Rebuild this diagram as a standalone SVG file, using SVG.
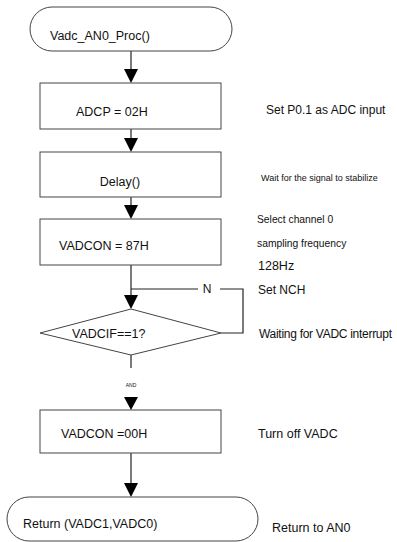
<svg xmlns="http://www.w3.org/2000/svg" width="397" height="542" viewBox="0 0 397 542">
<defs>
<style>
.shape{fill:#fff;stroke:#444;stroke-width:1}
.ln{fill:none;stroke:#222;stroke-width:1.2}
.ah{fill:#000}
text{font-family:"Liberation Sans",Arial,sans-serif;fill:#111}
.t{font-size:12.5px}
.n{font-size:12px}
.s{font-size:9px}
.m{font-size:10.3px}
</style>
</defs>
<rect width="397" height="542" fill="#fff"/>
<g id="connectors">
<line class="ln" x1="131" y1="51" x2="131" y2="70"/>
<polygon class="ah" points="124,69 138,69 131,83"/>
<line class="ln" x1="131" y1="129" x2="131" y2="139"/>
<polygon class="ah" points="124,138 138,138 131,152"/>
<line class="ln" x1="131" y1="197" x2="131" y2="206"/>
<polygon class="ah" points="124,205 138,205 131,219"/>
<line class="ln" x1="131" y1="265" x2="131" y2="296"/>
<polygon class="ah" points="124,295 138,295 131,309"/>
<polyline class="ln" points="221,333 243,333 243,289 220,289"/>
<line class="ln" x1="198" y1="289" x2="131" y2="289"/>
<text x="207" y="293" class="n" text-anchor="middle">N</text>
<line class="ln" x1="131" y1="355" x2="131" y2="368"/>
<text x="131" y="387" font-size="5px" text-anchor="middle">AND</text>
<polygon class="ah" points="124,397 138,397 131,410"/>
<line class="ln" x1="131" y1="453" x2="131" y2="484"/>
<polygon class="ah" points="124,483 138,483 131,497"/>
</g>
<g id="start">
<rect class="shape" x="30" y="7" width="202" height="44" rx="22" ry="22"/>
<text x="50" y="40" class="t">Vadc_AN0_Proc()</text>
</g>
<g id="adcp">
<rect class="shape" x="40" y="83" width="181" height="46"/>
<text x="76" y="116" class="t">ADCP = 02H</text>
</g>
<g id="delay">
<rect class="shape" x="40" y="152" width="181" height="45"/>
<text x="120" y="186" class="t" text-anchor="middle">Delay()</text>
</g>
<g id="vadcon87">
<rect class="shape" x="40" y="219" width="181" height="46"/>
<text x="59" y="250" class="t">VADCON = 87H</text>
</g>
<g id="decision">
<polygon class="shape" points="40,333 131,309 221,333 131,355"/>
<text x="72" y="338" class="t">VADCIF==1?</text>
</g>
<g id="vadcon00">
<rect class="shape" x="40" y="410" width="181" height="43"/>
<text x="61" y="438" class="t">VADCON =00H</text>
</g>
<g id="end">
<rect class="shape" x="7" y="497" width="251" height="44" rx="22" ry="22"/>
<text x="23" y="528" class="t">Return (VADC1,VADC0)</text>
</g>
<g id="notes">
<text x="266" y="114" class="n">Set P0.1 as ADC input</text>
<text x="261" y="181" class="s">Wait for the signal to stabilize</text>
<text x="257" y="223" class="m">Select channel 0</text>
<text x="257" y="247" class="m">sampling frequency</text>
<text x="258" y="270" font-size="12.5px">128Hz</text>
<text x="258" y="294" class="n">Set NCH</text>
<text x="259" y="338" class="n" textLength="133">Waiting for VADC interrupt</text>
<text x="258" y="438" font-size="12.5px">Turn off VADC</text>
<text x="272" y="532" font-size="12.5px">Return to AN0</text>
</g>
</svg>
